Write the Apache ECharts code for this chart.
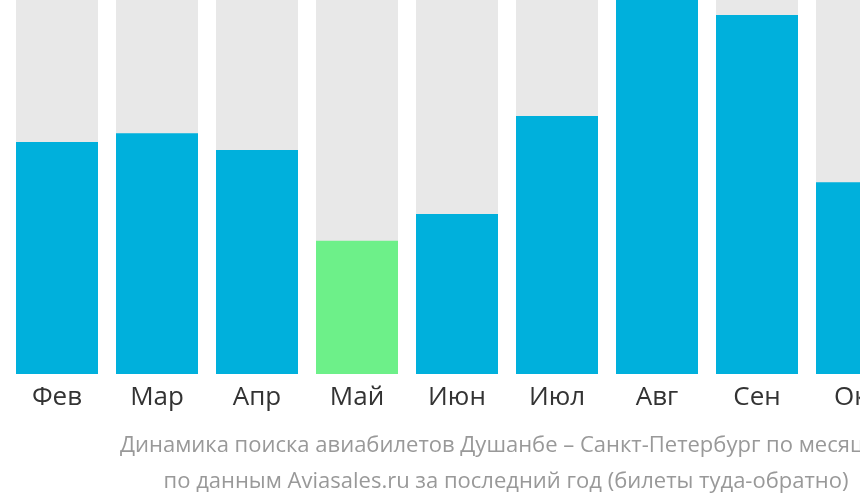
<!DOCTYPE html>
<html><head><meta charset="utf-8">
<script src="https://cdn.jsdelivr.net/npm/echarts@6/dist/echarts.min.js"></script>
<style>html,body{margin:0;padding:0;background:#fff}#c{width:860px;height:502px}</style>
</head><body><div id="c"></div>
<script>
const months = ['Фев','Мар','Апр','Май','Июн','Июл','Авг','Сен','Окт'];
const values = [62.0, 64.4, 59.9, 35.6, 42.8, 69.0, 100, 96.0, 51.3];
const highlightIndex = 3;
const titleLines = ['Динамика поиска авиабилетов Душанбе – Санкт-Петербург по месяцам','по данным Aviasales.ru за последний год (билеты туда-обратно)'];

const chart = echarts.init(document.getElementById('c'));
chart.setOption({
  animation: false,
  grid: {left: 7, top: 0, right: -47, bottom: 128, containLabel: false, outerBoundsMode: 'none'},
  xAxis: {type: 'category', data: months, axisLine: {show: false}, axisTick: {show: false},
    axisLabel: {color: '#333', fontSize: 26, fontFamily: 'Open Sans', margin: 11}},
  yAxis: {type: 'value', min: 0, max: 100, show: false, splitLine: {show: false}},
  series: [{type: 'bar', barWidth: 82,
    showBackground: true, backgroundStyle: {color: '#e8e8e8'},
    data: values.map((v, i) => ({value: v, itemStyle: {color: i === highlightIndex ? '#6df089' : '#00b0dc'}}))}],
  graphic: titleLines.map((t, i) => ({type: 'text', x: 506, y: 446 + i * 36,
    style: {text: t, fill: '#999', font: '22px "Open Sans"', textAlign: 'center', textVerticalAlign: 'middle'}}))
});
</script></body></html>
